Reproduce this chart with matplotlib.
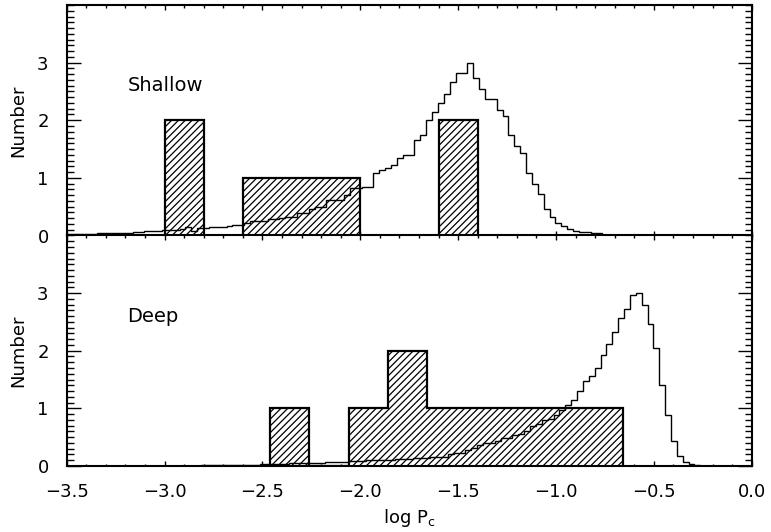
import numpy as np
import matplotlib
matplotlib.use('Agg')
import matplotlib.pyplot as plt
from matplotlib.ticker import MultipleLocator, FuncFormatter
from matplotlib.collections import LineCollection

# ---------------- data ----------------
# observed (hatched) histograms
shallow_obs_edges = [-3.0, -2.8, -2.6, -2.4, -2.2, -2.0, -1.8, -1.6, -1.4]
shallow_obs_counts = [2, 0, 1, 1, 1, 0, 0, 2]
deep_obs_edges = [-2.46, -2.26, -2.06, -1.86, -1.66, -1.46, -1.26, -1.06, -0.86, -0.66]
deep_obs_counts = [1, 0, 1, 2, 1, 1, 1, 1, 1]

# model distributions (step curves)
model_bin_width = 0.03
shallow_model_start = -3.493
shallow_model = [
    0.02, 0.02, 0.03, 0.03, 0.03, 0.04, 0.04, 0.04, 0.05, 0.05,
    0.05, 0.06, 0.06, 0.07, 0.07, 0.08, 0.09, 0.10, 0.10, 0.11,
    0.14, 0.08, 0.13, 0.13, 0.14, 0.15, 0.15, 0.16, 0.18, 0.19,
    0.21, 0.25, 0.26, 0.26, 0.28, 0.28, 0.30, 0.32, 0.32, 0.39,
    0.39, 0.46, 0.50, 0.50, 0.61, 0.62, 0.62, 0.71, 0.83, 0.83,
    0.85, 0.85, 1.085, 1.14, 1.17, 1.23, 1.345, 1.40, 1.40, 1.65,
    1.74, 2.00, 2.15, 2.30, 2.46, 2.67, 2.82, 2.82, 3.00, 2.73,
    2.54, 2.37, 2.37, 2.18, 2.08, 1.75, 1.56, 1.44, 1.085, 0.895,
    0.727, 0.467, 0.32, 0.21, 0.17, 0.115, 0.075, 0.065, 0.065, 0.05, 0.05,
]
deep_model_start = -2.9925
deep_model = [
    0.0, 0.0, 0.0, 0.005, 0.005, 0.005, 0.01, 0.01, 0.01, 0.01,
    0.01, 0.015, 0.015, 0.02, 0.02, 0.025, 0.03, 0.03, 0.035, 0.04,
    0.04, 0.045, 0.05, 0.05, 0.055, 0.06, 0.06, 0.065, 0.065, 0.07,
    0.07, 0.08, 0.08, 0.09, 0.10, 0.10, 0.10, 0.11, 0.11, 0.12,
    0.12, 0.12, 0.13, 0.14, 0.14, 0.15, 0.15, 0.15, 0.20, 0.23,
    0.23, 0.27, 0.31, 0.36, 0.40, 0.40, 0.44, 0.49, 0.49, 0.54,
    0.56, 0.60, 0.69, 0.72, 0.80, 0.82, 0.89, 0.97, 1.05, 1.15,
    1.30, 1.47, 1.555, 1.70, 1.92, 2.12, 2.32, 2.56, 2.72, 2.96,
    3.00, 2.785, 2.47, 2.05, 1.40, 0.88, 0.43, 0.17, 0.065, 0.035, 0.02,
]

panel_labels = ['Shallow', 'Deep']
x_label = r'log P$_{\mathregular{c}}$'
y_label = 'Number'
x_range = (-3.5, 0.0)
y_range = (0.0, 4.0)
y_ticks = [0, 1, 2, 3]

# ---------------- plot ----------------
plt.rcParams['font.family'] = ['DejaVu Sans']

FIG_W, FIG_H = 7.71, 5.32
DPI = 100
AX_RECT_TOP = [0.0865, 0.5573, 0.8885, 0.4333]
AX_RECT_BOT = [0.0865, 0.1241, 0.8885, 0.4333]
HATCH_SPACING_PX = 6.8   # horizontal distance between hatch lines

fig = plt.figure(figsize=(FIG_W, FIG_H), dpi=DPI)
ax_top = fig.add_axes(AX_RECT_TOP)
ax_bot = fig.add_axes(AX_RECT_BOT)

panels = [
    (ax_top, shallow_obs_edges, shallow_obs_counts, shallow_model_start, shallow_model, panel_labels[0]),
    (ax_bot, deep_obs_edges, deep_obs_counts, deep_model_start, deep_model, panel_labels[1]),
]

# pixel scale of data units (for 45-degree hatching)
px_per_x = FIG_W * DPI * AX_RECT_TOP[2] / (x_range[1] - x_range[0])
px_per_y = FIG_H * DPI * AX_RECT_TOP[3] / (y_range[1] - y_range[0])
slope = px_per_x / px_per_y
dx = HATCH_SPACING_PX / px_per_x


def xfmt(v, pos):
    if abs(v) < 1e-9:
        v = 0.0
    return f'{v:.1f}'.replace('-', '\u2212')


for ax, oedges, ocounts, mstart, mvals, lab in panels:
    ax.set_xlim(*x_range)
    ax.set_ylim(*y_range)

    # white filled observed histogram (clip region for hatching)
    fillpatch = ax.stairs(ocounts, oedges, fill=True, facecolor='white',
                          edgecolor='none', linewidth=0, zorder=2)
    # 45-degree hatch lines
    x0s = np.arange(oedges[0] - y_range[1] / slope - dx, oedges[-1] + dx, dx)
    segs = [[(x0, 0.0), (x0 + y_range[1] / slope, y_range[1])] for x0 in x0s]
    lc = LineCollection(segs, colors='black', linewidths=0.9, zorder=2.1)
    ax.add_collection(lc)
    lc.set_clip_path(fillpatch)

    # model step curve
    medges = mstart + model_bin_width * np.arange(len(mvals) + 1)
    ax.stairs(mvals, medges, baseline=0, color='black', linewidth=1.0, zorder=3)

    # observed outline
    ax.stairs(ocounts, oedges, baseline=0, fill=False, color='black',
              linewidth=1.6, zorder=4)

    ax.set_xlim(*x_range)
    ax.set_ylim(*y_range)
    ax.xaxis.set_major_locator(MultipleLocator(0.5))
    ax.xaxis.set_minor_locator(MultipleLocator(0.1))
    ax.set_yticks(y_ticks)
    ax.yaxis.set_minor_locator(MultipleLocator(0.1))
    ax.xaxis.set_major_formatter(FuncFormatter(xfmt))

    ax.tick_params(which='both', direction='in', top=True, right=True,
                   labelsize=13, width=1.0)
    ax.tick_params(axis='y', which='major', length=10, pad=13)
    ax.tick_params(axis='y', which='minor', length=5)
    ax.tick_params(axis='x', which='major', length=3.6, pad=12)
    ax.tick_params(axis='x', which='minor', length=1.8)
    for s in ax.spines.values():
        s.set_linewidth(1.5)
        s.set_zorder(5)

    ax.set_ylabel(y_label, fontsize=13)
    ax.yaxis.set_label_coords(-0.058, 0.5)
    ax.text(-3.19, 2.6, lab, fontsize=14, va='center', ha='left')

ax_top.tick_params(axis='x', labelbottom=False)
ax_bot.set_xlabel(x_label, fontsize=13)
ax_bot.xaxis.set_label_coords(0.5, -0.18)

fig.savefig('out.png', dpi=DPI)
